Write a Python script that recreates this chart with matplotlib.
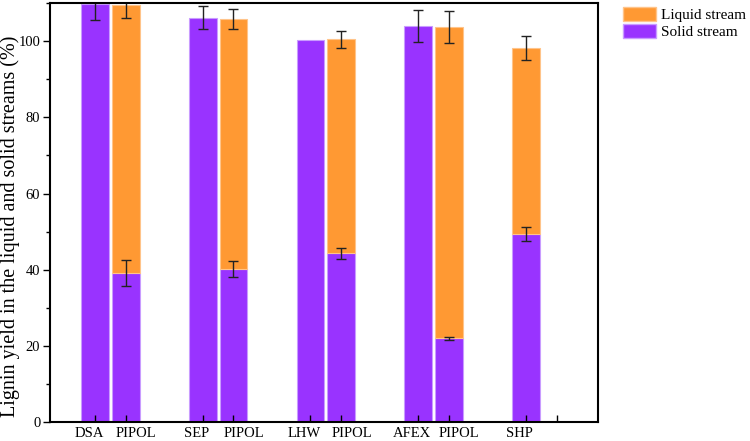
import matplotlib
matplotlib.use("Agg")
import matplotlib.pyplot as plt
import matplotlib.transforms as mtrans
from matplotlib.patches import Patch
from matplotlib.ticker import MultipleLocator
import numpy as np

plt.rcParams['font.family'] = ['Liberation Serif', 'DejaVu Serif']

# data
labels = ['DSA', 'PIPOL', 'SEP', 'PIPOL', 'LHW', 'PIPOL', 'AFEX', 'PIPOL', 'SHP', '']
solid = [109.8, 39.1, 106.2, 40.2, 100.2, 44.3, 104.0, 22.0, 49.3]
solid_err = [4.2, 3.5, 3.1, 2.2, np.nan, 1.5, 4.2, 0.4, 1.8]
liquid = [0.0, 70.3, 0.0, 65.7, 0.0, 56.2, 0.0, 81.8, 48.9]
total_err = [np.nan, 3.4, np.nan, 2.6, np.nan, 2.2, np.nan, 4.2, 3.2]

c_liquid = '#FF9933'
c_solid = '#9933FF'

# pairs of bars, wider gap between pairs
idx = np.arange(len(labels))
pos = 1 + (idx // 2) * 3.5 + (idx % 2)
xb = pos[:len(solid)]

fig = plt.figure(figsize=(7.5, 4.41), dpi=100)
ax = fig.add_axes([0.0667, 0.043, 0.730, 0.950])

solid = np.array(solid)
liquid = np.array(liquid)
has_liq = liquid > 0
ax.bar(xb, solid, width=0.9, color=c_solid, edgecolor='#C99CFF', linewidth=0.8)
ax.bar(xb[has_liq], liquid[has_liq], width=0.9, bottom=solid[has_liq], color=c_liquid,
       edgecolor='#FFC48A', linewidth=0.8)

ax.errorbar(xb, solid, yerr=solid_err, fmt='none', ecolor='#222222', elinewidth=1, capsize=3.5, capthick=1)
ax.errorbar(xb[has_liq], (solid + liquid)[has_liq], yerr=np.array(total_err)[has_liq],
            fmt='none', ecolor='#222222', elinewidth=1, capsize=3.5, capthick=1)

ax.set_xlim(-0.46, 17.33)
ax.set_ylim(0, 110)
ax.set_xticks(pos)
ax.set_xticklabels([])
# category names sit a little off their ticks in the original
base = ax.get_xaxis_transform()
for x, lab in zip(pos, labels):
    dx = 7.5 if lab == 'PIPOL' else -4.3
    tr = base + mtrans.ScaledTranslation(dx / 72, -3.5 / 72, fig.dpi_scale_trans)
    ax.text(x, 0, lab, transform=tr, ha='center', va='top', fontsize=10.5)

ax.yaxis.set_major_locator(MultipleLocator(20))
ax.yaxis.set_minor_locator(MultipleLocator(10))
ax.tick_params(axis='x', direction='in', length=5, width=1)
ax.tick_params(axis='y', which='major', direction='out', length=5, width=1, labelsize=10.5, pad=2)
ax.tick_params(axis='y', which='minor', direction='out', length=3, width=1)
for s in ax.spines.values():
    s.set_linewidth(1.5)

ax.set_ylabel('Lignin yield in the liquid and solid streams (%)', fontsize=14.5)
ax.yaxis.set_label_coords(-0.054, 0.468)

handles = [Patch(facecolor=c_liquid, edgecolor='#FFC48A'), Patch(facecolor=c_solid, edgecolor='#C99CFF')]
fig.legend(handles, ['Liquid stream', 'Solid stream'], loc='upper left', bbox_to_anchor=(0.818, 1.005),
           frameon=False, fontsize=11, handlelength=2.2, handleheight=1.05, handletextpad=0.3,
           labelspacing=0.1, borderaxespad=0.2)

fig.savefig('out.png', dpi=100)
